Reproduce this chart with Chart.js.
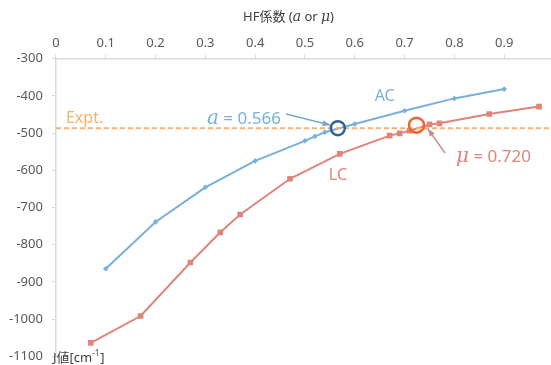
<!DOCTYPE html>
<html>
<head>
<meta charset="utf-8">
<script src="https://cdn.jsdelivr.net/npm/chart.js@4"></script>
<style>
  html, body { margin: 0; padding: 0; background: #fff; overflow: hidden; }
  #wrap { width: 575px; height: 373px; }
</style>
</head>
<body>
<div id="wrap"><canvas id="chart"></canvas></div>
<script>
const FONT = "'Noto Sans', 'Noto Sans CJK JP', sans-serif";

// AC series
const acX = [0.1, 0.2, 0.3, 0.4, 0.5, 0.52, 0.54, 0.6, 0.7, 0.8, 0.9];
const acY = [-865, -739, -646, -575, -521, -509, -498, -476, -440, -407, -382];

// LC series
const lcX = [0.07, 0.17, 0.27, 0.33, 0.37, 0.47, 0.57, 0.67, 0.69, 0.71, 0.75, 0.77, 0.87, 0.97];
const lcY = [-1064, -992, -848, -767, -719, -623, -556, -507, -501, -494, -477, -474, -449, -429];

const exptValue = -487;
const acCross = 0.566;
const lcCross = 0.720;

const xTicks = [0, 0.1, 0.2, 0.3, 0.4, 0.5, 0.6, 0.7, 0.8, 0.9, 1];
const yTicks = [-300, -400, -500, -600, -700, -800, -900, -1000, -1100];

const toPts = (xs, ys) => xs.map((x, i) => ({ x: x, y: ys[i] }));

const annotate = {
    id: 'annotate',
    afterDatasetsDraw(chart) {
        const ctx = chart.ctx;
        const xs = chart.scales.x, ys = chart.scales.y;
        const px = v => xs.getPixelForValue(v);
        const py = v => ys.getPixelForValue(v);

        ctx.save();

        // Expt. label
        ctx.fillStyle = '#f7b26a';
        ctx.font = '16px ' + FONT;
        ctx.textBaseline = 'alphabetic';
        ctx.fillText('Expt.', px(0) + 10, py(exptValue) - 5);

        // series labels
        ctx.fillStyle = '#79b0da';
        ctx.fillText('AC', px(0.64), py(-397) + 6);
        ctx.fillStyle = '#e0847a';
        ctx.fillText('LC', px(0.548), py(-610) + 6);

        // crossing circles
        ctx.lineWidth = 2.5;
        ctx.strokeStyle = '#2f6496';
        ctx.beginPath();
        ctx.arc(px(acCross), py(exptValue), 7, 0, Math.PI * 2);
        ctx.stroke();
        ctx.strokeStyle = '#f2622b';
        ctx.beginPath();
        ctx.arc(px(lcCross) + 2, py(exptValue) - 3, 7.5, 0, Math.PI * 2);
        ctx.stroke();

        // arrows
        function arrow(x1, y1, x2, y2, color) {
            ctx.strokeStyle = color;
            ctx.fillStyle = color;
            ctx.lineWidth = 1.5;
            ctx.beginPath();
            ctx.moveTo(x1, y1);
            ctx.lineTo(x2, y2);
            ctx.stroke();
            const a = Math.atan2(y2 - y1, x2 - x1);
            ctx.beginPath();
            ctx.moveTo(x2, y2);
            ctx.lineTo(x2 - 8 * Math.cos(a - 0.4), y2 - 8 * Math.sin(a - 0.4));
            ctx.lineTo(x2 - 8 * Math.cos(a + 0.4), y2 - 8 * Math.sin(a + 0.4));
            ctx.closePath();
            ctx.fill();
        }
        arrow(286, 114, 330, 125, '#7aa8cc');
        arrow(445, 153, 428, 129, '#c4908c');

        // a = 0.566, mu = 0.720
        function mixed(x, y, sym, rest, color) {
            ctx.fillStyle = color;
            ctx.font = 'italic 20px "DejaVu Serif", serif';
            ctx.fillText(sym, x, y);
            const w = ctx.measureText(sym).width;
            ctx.font = '17px ' + FONT;
            ctx.fillText(rest, x + w, y);
        }
        mixed(207, 124, 'a', ' = 0.566', '#79b0da');
        mixed(456, 162, 'μ', ' = 0.720', '#e0847a');

        // top axis title
        ctx.fillStyle = '#404040';
        let tx = 243;
        const parts = [['HF係数 (', '13px ' + FONT], ['a', 'italic 14px "DejaVu Serif", serif'],
            [' or ', '13px ' + FONT], ['μ', 'italic 14px "DejaVu Serif", serif'], [')', '13px ' + FONT]];
        parts.forEach(p => {
            ctx.font = p[1];
            ctx.fillText(p[0], tx, 21);
            tx += ctx.measureText(p[0]).width;
        });

        // y unit label
        ctx.font = '13px ' + FONT;
        ctx.fillText('J値[cm', 53, 362);
        const w = ctx.measureText('J値[cm').width;
        ctx.font = '8px ' + FONT;
        ctx.fillText('-1', 53 + w, 356);
        const w2 = ctx.measureText('-1').width;
        ctx.font = '13px ' + FONT;
        ctx.fillText(']', 53 + w + w2 + 1, 362);

        ctx.restore();
    }
};

new Chart(document.getElementById('chart'), {
    type: 'scatter',
    data: {
        datasets: [
            {
                label: 'Expt.',
                data: [{ x: 0, y: exptValue }, { x: 1, y: exptValue }],
                showLine: true,
                borderColor: '#f7b26a',
                borderWidth: 2,
                borderDash: [5, 3],
                pointRadius: 0,
            },
            {
                label: 'AC',
                data: toPts(acX, acY),
                showLine: true,
                borderColor: '#79b0da',
                backgroundColor: '#79b0da',
                borderWidth: 2,
                pointStyle: 'rectRot',
                pointRadius: 2.8,
                pointBorderWidth: 0,
            },
            {
                label: 'LC',
                data: toPts(lcX, lcY),
                showLine: true,
                borderColor: '#e0847a',
                backgroundColor: '#e0847a',
                borderWidth: 2,
                pointStyle: 'rect',
                pointRadius: 4,
                pointBorderWidth: 0,
            },
        ],
    },
    options: {
        responsive: true,
        maintainAspectRatio: false,
        animation: false,
        layout: { padding: { top: 31, left: 0, right: 21, bottom: 0 } },
        plugins: {
            legend: { display: false },
            tooltip: { enabled: false },
        },
        scales: {
            x: {
                type: 'linear',
                position: 'top',
                min: 0,
                max: 1,
                afterBuildTicks: (axis) => { axis.ticks = xTicks.map(v => ({ value: v })); },
                ticks: {
                    color: '#595959',
                    font: { family: FONT, size: 13 },
                    padding: 4,
                    maxRotation: 0,
                    callback: (v) => String(Number(v.toFixed(1))),
                },
                grid: { drawOnChartArea: false, color: '#d9d9d9', tickLength: 4 },
                border: { color: '#d9d9d9', width: 1.5 },
            },
            y: {
                min: -1100,
                max: -300,
                afterBuildTicks: (axis) => { axis.ticks = yTicks.map(v => ({ value: v })); },
                ticks: {
                    color: '#595959',
                    font: { family: FONT, size: 13 },
                    padding: 9,
                    callback: (v) => String(v),
                },
                grid: { drawOnChartArea: false, color: '#d9d9d9', tickLength: 4 },
                border: { color: '#d9d9d9', width: 1.5 },
            },
        },
    },
    plugins: [annotate],
});
</script>
</body>
</html>
